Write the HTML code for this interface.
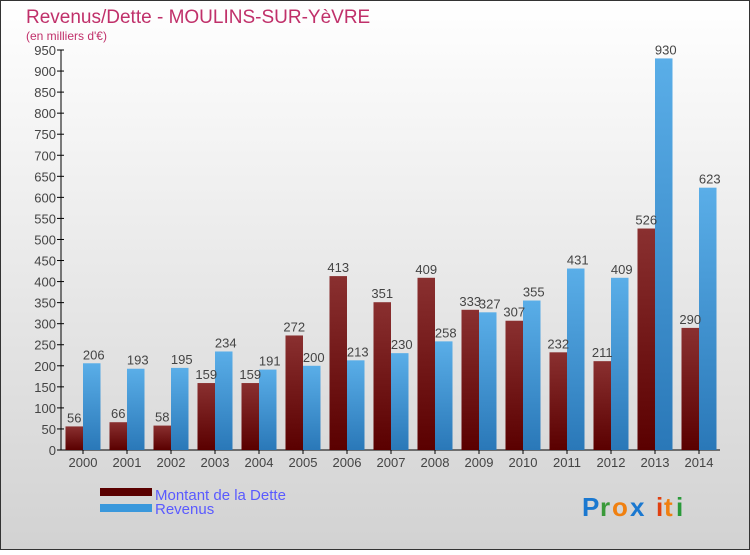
<!DOCTYPE html>
<html><head><meta charset="utf-8"><style>
body{margin:0;width:750px;height:550px;overflow:hidden;font-family:"Liberation Sans",sans-serif}
</style></head><body>
<svg width="750" height="550" xmlns="http://www.w3.org/2000/svg">
<defs>
<linearGradient id="bg" x1="0" y1="0" x2="0" y2="1"><stop offset="0" stop-color="#ffffff"/><stop offset="1" stop-color="#d2d2d2"/></linearGradient>
<linearGradient id="gd" x1="0" y1="0" x2="0" y2="1"><stop offset="0" stop-color="#8a3030"/><stop offset="1" stop-color="#5a0000"/></linearGradient>
<linearGradient id="gr" x1="0" y1="0" x2="0" y2="1"><stop offset="0" stop-color="#5aaee8"/><stop offset="1" stop-color="#2a78b8"/></linearGradient>
</defs>
<rect x="0.5" y="0.5" width="749" height="549" fill="url(#bg)" stroke="#333"/>
<text x="26" y="23" font-size="19" fill="#c0306a">Revenus/Dette - MOULINS-SUR-YèVRE</text>
<text x="26" y="40" font-size="12" fill="#c0306a">(en milliers d'€)</text>
<g id="axes"></g>
<g id="bars"></g>
<rect x="100" y="488" width="52" height="8" fill="#5a0000"/>
<rect x="100" y="504" width="52" height="8" fill="#3a98dc"/>
<text x="155" y="500" font-size="15" fill="#5a5aff">Montant de la Dette</text>
<text x="155" y="514" font-size="15" fill="#5a5aff">Revenus</text>
<g font-size="26" font-weight="bold">
<text x="582" y="516" fill="#1a78d0">P</text><text x="600" y="516" fill="#3a9a3a">r</text><text x="612" y="516" fill="#f08010">o</text><text x="630" y="516" fill="#1a78d0">x</text><text x="656" y="516" fill="#e04010">i</text><text x="664" y="516" fill="#f08010">t</text><text x="676" y="516" fill="#2a9a3a">i</text>
</g>
</svg>
<script>
const years=["2000","2001","2002","2003","2004","2005","2006","2007","2008","2009","2010","2011","2012","2013","2014"];
const dette=[56,66,58,159,159,272,413,351,409,333,307,232,211,526,290];
const revenus=[206,193,195,234,191,200,213,230,258,327,355,431,409,930,623];
const ticks=[0,50,100,150,200,250,300,350,400,450,500,550,600,650,700,750,800,850,900,950];
const NS="http://www.w3.org/2000/svg";
const x0=61,x1=720,y0=450,yTop=50,max=950,step=44;
const y=v=>y0-(v/max)*(y0-yTop);
const gx=i=>x0+step/2+i*step;
function mk(t,a,p,txt){const e=document.createElementNS(NS,t);for(const k in a)e.setAttribute(k,a[k]);if(txt!==undefined)e.textContent=txt;p.appendChild(e);return e;}
const ax=document.getElementById('axes'),bs=document.getElementById('bars');
ticks.forEach(t=>{
 const l=mk('line',{x1:x0-4,x2:x0+3,y1:y(t),y2:y(t),stroke:'#000'},ax);
 
 
 const tx=mk('text',{x:x0-5,y:y(t)+5,'font-size':13,'text-anchor':'end',fill:'#444'},ax,t);
 
 
});
years.forEach((yr,i)=>{
 const c=gx(i);
 const tk=mk('line',{x1:c,x2:c,y1:y0,y2:y0+4,stroke:'#000'},ax);
 
 
 const tl=mk('text',{x:c,y:y0+17,'font-size':13,'text-anchor':'middle',fill:'#444'},ax,yr);
 
 
 const bw=17.5;
 const d=mk('rect',{x:c-bw,y:y(dette[i]),width:bw,height:y0-y(dette[i]),fill:'url(#gd)'},bs);
 
 
 const r=mk('rect',{x:c,y:y(revenus[i]),width:bw,height:y0-y(revenus[i]),fill:'url(#gr)'},bs);
 
 
 const dl=mk('text',{x:c-bw/2,y:y(dette[i])-4,'font-size':13,'text-anchor':'middle',fill:'#444'},bs,dette[i]);
 
 
 const rl=mk('text',{x:c+bw/2+2,y:y(revenus[i])-4,'font-size':13,'text-anchor':'middle',fill:'#444'},bs,revenus[i]);
 
 
});
const ya=mk('line',{x1:x0,x2:x0,y1:yTop,y2:y0,stroke:'#000'},ax);


const xa=mk('line',{x1:x0,x2:x1,y1:y0,y2:y0,stroke:'#000'},ax);


</script>
</body></html>
